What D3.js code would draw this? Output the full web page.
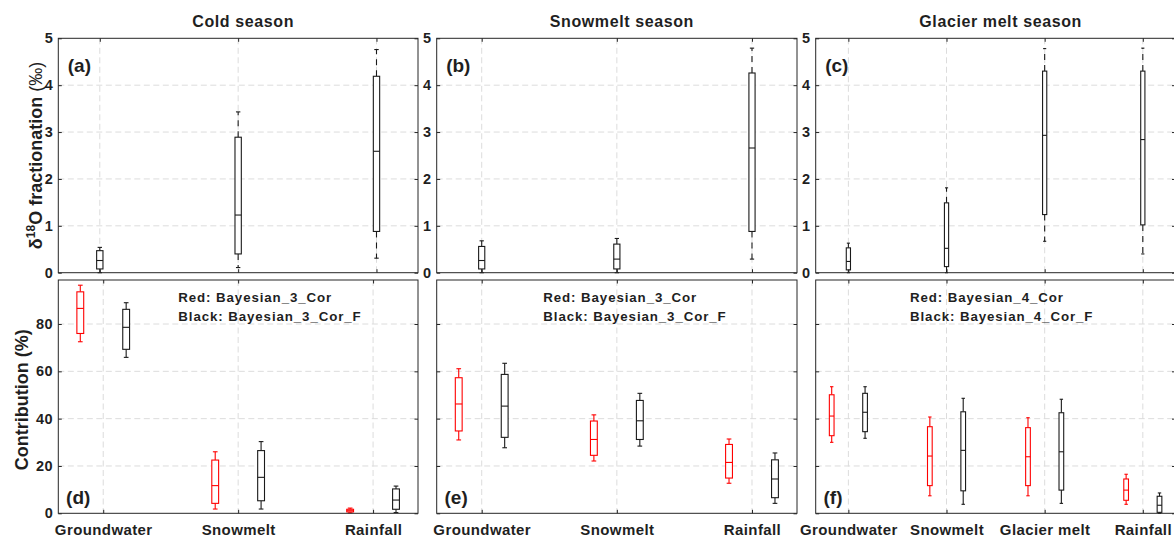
<!DOCTYPE html>
<html>
<head>
<meta charset="utf-8">
<script src="https://cdn.jsdelivr.net/npm/d3@7/dist/d3.min.js"></script>
<style>
  body { margin: 0; background: #fff; }
  svg text { font-family: "Liberation Sans", Arial, sans-serif; font-weight: bold; fill: #1f1f1f; }
</style>
</head>
<body>
<svg id="chart" width="1174" height="537"></svg>
<script>
// ---- data ----
const seasonTitles = ["Cold season", "Snowmelt season", "Glacier melt season"];
const topTags = ["(a)", "(b)", "(c)"];
const bottomTags = ["(d)", "(e)", "(f)"];
const sources3 = ["Groundwater", "Snowmelt", "Rainfall"];
const sources4 = ["Groundwater", "Snowmelt", "Glacier melt", "Rainfall"];
const fracTicks = [0, 1, 2, 3, 4, 5];
const contribTicks = [0, 20, 40, 60, 80];
const redNames = ["Red: Bayesian_3_Cor", "Red: Bayesian_3_Cor", "Red: Bayesian_4_Cor"];
const blackNames = ["Black: Bayesian_3_Cor_F", "Black: Bayesian_3_Cor_F", "Black: Bayesian_4_Cor_F"];

// each box: [lower whisker, q1, median, q3, upper whisker]
const fracCold = [[0, 0.08, 0.26, 0.47, 0.54], [0.11, 0.40, 1.23, 2.89, 3.43], [0.31, 0.88, 2.59, 4.19, 4.76]];
const fracSnow = [[0, 0.08, 0.26, 0.56, 0.68], [0, 0.08, 0.29, 0.61, 0.73], [0.29, 0.88, 2.66, 4.26, 4.79]];
const fracGlacier = [[0, 0.06, 0.24, 0.53, 0.63], [0, 0.13, 0.52, 1.49, 1.81], [0.67, 1.24, 2.93, 4.30, 4.78], [0.40, 1.02, 2.84, 4.30, 4.79]];

const contribColdRed = [[72.5, 76.0, 86.6, 93.6, 96.4], [1.8, 4.2, 11.7, 22.5, 26.0], [0.2, 0.6, 1.1, 1.7, 2.2]];
const contribColdBlack = [[65.9, 69.3, 78.6, 86.2, 89.0], [1.8, 5.3, 15.2, 26.5, 30.3], [0.3, 1.7, 5.6, 10.3, 11.5]];
const contribSnowRed = [[31.0, 34.8, 46.2, 57.3, 61.1], [22.1, 24.5, 31.2, 39.0, 41.6], [12.7, 14.9, 21.5, 29.1, 31.4]];
const contribSnowBlack = [[27.7, 32.1, 45.3, 58.7, 63.4], [28.4, 31.2, 39.1, 47.7, 50.7], [4.2, 6.6, 14.5, 22.6, 25.5]];
const contribGlacierRed = [[30.0, 32.8, 41.1, 50.1, 53.5], [7.4, 11.7, 24.2, 36.6, 40.7], [7.4, 11.7, 23.9, 36.2, 40.4], [3.8, 5.5, 9.8, 14.5, 16.5]];
const contribGlacierBlack = [[31.7, 34.5, 42.7, 50.7, 53.5], [3.8, 9.5, 26.6, 42.9, 48.6], [4.2, 9.8, 26.0, 42.5, 48.2], [0, 0.4, 3.4, 7.2, 8.6]];

// ---- layout ----
const config = {
  panelX: [[58.3, 418], [436.7, 797], [815.7, 1175.5]],
  topY: [272.7, 38.3],
  bottomY: [513.3, 280],
  topXlim: [[0.7, 3.3], [0.667, 3.333], [0.667, 4.333]],
  bottomXlim: [[0.667, 3.333], [0.667, 3.333], [0.667, 4.333]],
  annX: [120, 106.6, 94.3],
  offset: 0.17,
  topBoxW: 0.053,
  bottomBoxW: 0.058,
  grid: "#dcdcdc",
  axis: "#262626",
};

const svg = d3.select("#chart");
const gridLayer = svg.append("g");
const markLayer = svg.append("g");
const axisLayer = svg.append("g");

function drawFrame(xs, ys, xticks, yticks, yLabels, xLabels) {
  const [x0, x1] = xs.range();
  const [y0, y1] = ys.range();

  // dashed grid
  gridLayer.append("g").selectAll("line").data(yticks.filter(t => ys(t) > y1 + 1 && ys(t) < y0 - 1)).enter()
    .append("line")
    .attr("x1", x0).attr("x2", x1).attr("y1", d => ys(d)).attr("y2", d => ys(d))
    .attr("stroke", config.grid).attr("stroke-dasharray", "6,3.5");
  gridLayer.append("g").selectAll("line").data(xticks).enter()
    .append("line")
    .attr("x1", d => xs(d)).attr("x2", d => xs(d)).attr("y1", y1).attr("y2", y0)
    .attr("stroke", config.grid).attr("stroke-dasharray", "6,3.5");

  const g = axisLayer.append("g");
  const left = g.append("g").attr("transform", `translate(${x0},0)`)
    .call(d3.axisLeft(ys).tickValues(yticks).tickSize(-3.5).tickPadding(5)
      .tickFormat(yLabels ? d3.format("d") : ""));
  const right = g.append("g").attr("transform", `translate(${x1},0)`)
    .call(d3.axisRight(ys).tickValues(yticks).tickSize(-3.5).tickFormat(""));
  const bottom = g.append("g").attr("transform", `translate(0,${y0})`)
    .call(d3.axisBottom(xs).tickValues(xticks).tickSize(-3.5).tickPadding(7)
      .tickFormat(xLabels ? (d, i) => xLabels[i] : ""));
  const top = g.append("g").attr("transform", `translate(0,${y1})`)
    .call(d3.axisTop(xs).tickValues(xticks).tickSize(-3.5).tickFormat(""));

  [left, right, bottom, top].forEach(a => {
    a.select(".domain").remove();
    a.selectAll("line").attr("stroke", config.axis);
    a.selectAll("text").attr("fill", "#1f1f1f").style("font-family", null);
  });
  left.selectAll("text").attr("font-size", 14.5).attr("letter-spacing", 0.6);
  bottom.selectAll("text").attr("font-size", 15).attr("letter-spacing", 0.4).attr("dy", "0.95em");

  g.append("rect")
    .attr("x", x0).attr("y", y1).attr("width", x1 - x0).attr("height", y0 - y1)
    .attr("fill", "none").attr("stroke", config.axis).attr("stroke-width", 1);
}

function drawBoxes(xs, ys, stats, pos, boxW, color, whiskerDash) {
  const w = (xs(1 + boxW) - xs(1));
  const capW = w * 0.6;
  const gBox = markLayer.append("g").attr("stroke", color).attr("fill", "none").attr("stroke-width", 1.1);
  const boxes = gBox.selectAll("g").data(stats).enter().append("g");
  // whiskers
  boxes.append("line")
    .attr("x1", (d, i) => xs(pos[i])).attr("x2", (d, i) => xs(pos[i]))
    .attr("y1", d => ys(d[3])).attr("y2", d => ys(d[4]))
    .attr("stroke-dasharray", whiskerDash);
  boxes.append("line")
    .attr("x1", (d, i) => xs(pos[i])).attr("x2", (d, i) => xs(pos[i]))
    .attr("y1", d => ys(d[1])).attr("y2", d => ys(d[0]))
    .attr("stroke-dasharray", whiskerDash);
  // caps
  [0, 4].forEach(k => {
    boxes.append("line")
      .attr("x1", (d, i) => xs(pos[i]) - capW / 2).attr("x2", (d, i) => xs(pos[i]) + capW / 2)
      .attr("y1", d => ys(d[k])).attr("y2", d => ys(d[k]));
  });
  // box
  boxes.append("rect")
    .attr("x", (d, i) => xs(pos[i]) - (w - 1) / 2)
    .attr("width", w - 1)
    .attr("y", d => ys(d[3]))
    .attr("height", d => ys(d[1]) - ys(d[3]))
    .attr("fill", "#fff");
  // median
  boxes.append("line")
    .attr("x1", (d, i) => xs(pos[i]) - (w - 1) / 2).attr("x2", (d, i) => xs(pos[i]) + (w - 1) / 2)
    .attr("y1", d => ys(d[2])).attr("y2", d => ys(d[2]));
}

const fracSets = [fracCold, fracSnow, fracGlacier];
const redSets = [contribColdRed, contribSnowRed, contribGlacierRed];
const blackSets = [contribColdBlack, contribSnowBlack, contribGlacierBlack];
const catSets = [sources3, sources3, sources4];

seasonTitles.forEach((title, p) => {
  const cats = catSets[p];
  const idx = cats.map((c, i) => i + 1);

  // ---- top: fractionation ----
  const xTop = d3.scaleLinear().domain(config.topXlim[p]).range(config.panelX[p]);
  const yTop = d3.scaleLinear().domain([0, 5]).range(config.topY);
  drawFrame(xTop, yTop, idx, fracTicks, true, null);
  drawBoxes(xTop, yTop, fracSets[p], idx, config.topBoxW, "#1a1a1a", "6,5");

  // ---- bottom: contribution ----
  const xBot = d3.scaleLinear().domain(config.bottomXlim[p]).range(config.panelX[p]);
  const yBot = d3.scaleLinear().domain([0, 98.6]).range(config.bottomY);
  drawFrame(xBot, yBot, idx, contribTicks, p === 0, cats);
  drawBoxes(xBot, yBot, redSets[p], idx.map(i => i - config.offset), config.bottomBoxW, "#ff0000", null);
  drawBoxes(xBot, yBot, blackSets[p], idx.map(i => i + config.offset), config.bottomBoxW, "#1a1a1a", null);

  const px = config.panelX[p];
  // title
  svg.append("text")
    .attr("x", (px[0] + px[1]) / 2 + 5).attr("y", 26.7)
    .attr("text-anchor", "middle").attr("font-size", 16).attr("letter-spacing", 0.6)
    .attr("fill", "#000")
    .text(title);
  // panel tags
  svg.append("text").attr("x", px[0] + 9.5).attr("y", 71.5).attr("font-size", 19).attr("fill", "#000").text(topTags[p]);
  svg.append("text").attr("x", px[0] + 7.8).attr("y", 504).attr("font-size", 19).attr("fill", "#000").text(bottomTags[p]);
  // model legend text
  svg.append("text").attr("x", px[0] + config.annX[p]).attr("y", 302).attr("font-size", 13.3).attr("letter-spacing", 0.9).text(redNames[p]);
  svg.append("text").attr("x", px[0] + config.annX[p]).attr("y", 320.5).attr("font-size", 13.3).attr("letter-spacing", 0.9).text(blackNames[p]);
});

// y labels
svg.append("text")
  .attr("transform", `translate(41.7,${(config.topY[0] + config.topY[1]) / 2}) rotate(-90)`)
  .attr("text-anchor", "middle").attr("font-size", 18)
  .call(t => {
    t.append("tspan").text("δ");
    t.append("tspan").attr("font-size", 12).attr("dy", -7).text("18");
    t.append("tspan").attr("dy", 7).text("O fractionation ");
    t.append("tspan").attr("font-weight", "normal").text("(‰)");
  });
svg.append("text")
  .attr("transform", `translate(27.8,${(config.bottomY[0] + config.bottomY[1]) / 2 + 3}) rotate(-90)`)
  .attr("text-anchor", "middle").attr("font-size", 18)
  .text("Contribution (%)");
</script>
</body>
</html>
